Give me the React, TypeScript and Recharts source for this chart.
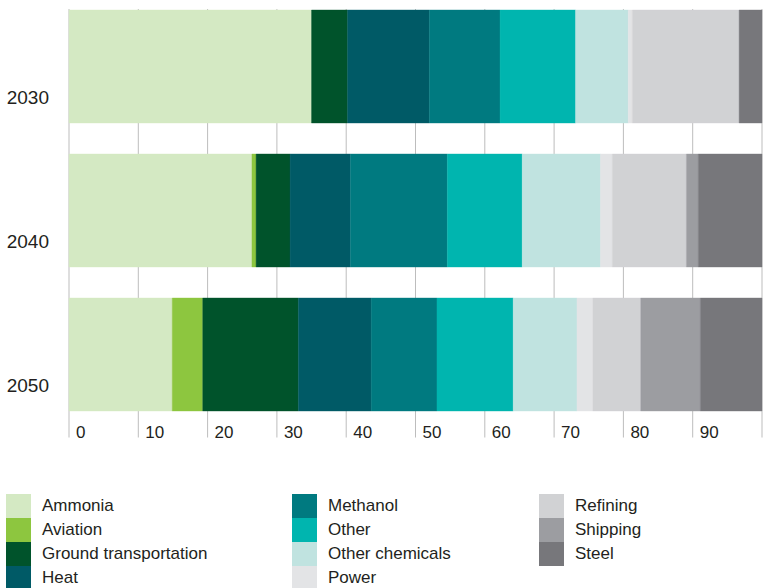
import { Bar, BarChart, CartesianGrid, Legend, XAxis, YAxis } from "recharts";

const years = ["2030", "2040", "2050"];

// share of hydrogen demand by sector, % of each year's total
const ammonia = [35, 26.4, 14.9];
const aviation = [0, 0.6, 4.4];
const groundTransportation = [5.2, 4.9, 13.8];
const heat = [11.8, 8.7, 10.5];
const methanol = [10.2, 14.0, 9.5];
const other = [10.9, 10.8, 11.0];
const otherChemicals = [7.6, 11.3, 9.2];
const power = [0.6, 1.7, 2.3];
const refining = [15.4, 10.7, 6.9];
const shipping = [0, 1.7, 8.6];
const steel = [3.3, 9.2, 8.9];

const xTicks = [0, 10, 20, 30, 40, 50, 60, 70, 80, 90, 100];

const series = [
  { key: "ammonia", name: "Ammonia", values: ammonia, color: "#d4e9c3" },
  { key: "aviation", name: "Aviation", values: aviation, color: "#8dc63f" },
  { key: "ground", name: "Ground transportation", values: groundTransportation, color: "#00532b" },
  { key: "heat", name: "Heat", values: heat, color: "#005a66" },
  { key: "methanol", name: "Methanol", values: methanol, color: "#007a80" },
  { key: "other", name: "Other", values: other, color: "#00b5af" },
  { key: "otherChemicals", name: "Other chemicals", values: otherChemicals, color: "#c0e3e0" },
  { key: "power", name: "Power", values: power, color: "#e3e4e6" },
  { key: "refining", name: "Refining", values: refining, color: "#d1d2d4" },
  { key: "shipping", name: "Shipping", values: shipping, color: "#9c9da1" },
  { key: "steel", name: "Steel", values: steel, color: "#77777b" },
];

const data = years.map((year, i) => {
  const row: Record<string, string | number> = { year };
  series.forEach((s) => (row[s.key] = s.values[i]));
  return row;
});

const FONT = '"Liberation Sans", Arial, Helvetica, sans-serif';
const TEXT = "#231f20";
const GRID = "#bdbdbd";

const legendColumns = [series.slice(0, 4), series.slice(4, 8), series.slice(8)];
const legendColumnLeft = [6, 292, 539];

function YearTick(props: any) {
  const { x, y, payload } = props;
  return (
    <text x={x - 20} y={y + 38} textAnchor="end" fontSize={19} fontFamily={FONT} fill={TEXT}>
      {payload.value}
    </text>
  );
}

function ValueTick(props: any) {
  const { x, y, payload } = props;
  if (payload.value >= 100) return <g />;
  return (
    <text x={x + 7} y={y + 11.5} textAnchor="start" fontSize={17} fontFamily={FONT} fill={TEXT}>
      {payload.value}
    </text>
  );
}

function GridLine(props: any) {
  // lines start at the top of the first bar and run down past the axis
  return (
    <line
      key={props.key}
      x1={props.x1}
      x2={props.x2}
      y1={props.y1 + 15}
      y2={props.y2 + 11.5}
      stroke={GRID}
      strokeWidth={1}
    />
  );
}

function SectorLegend() {
  return (
    <div style={{ position: "relative", width: 765, height: 96, fontFamily: FONT }}>
      {legendColumns.map((col, ci) => (
        <div key={ci} style={{ position: "absolute", left: legendColumnLeft[ci], top: 0 }}>
          {col.map((s) => (
            <div key={s.key} style={{ display: "flex", alignItems: "center", height: 24 }}>
              <div style={{ width: 25, height: 24, background: s.color }} />
              <span style={{ marginLeft: 11, fontSize: 17, color: TEXT, lineHeight: "24px" }}>
                {s.name}
              </span>
            </div>
          ))}
        </div>
      ))}
    </div>
  );
}

export default function App() {
  return (
    <div style={{ position: "absolute", left: 0, top: 0, width: 765, height: 588, background: "#fff" }}>
      <BarChart
        width={765}
        height={588}
        data={data}
        layout="vertical"
        margin={{ top: -6, right: 3, left: 0, bottom: 132 }}
      >
        <CartesianGrid horizontal={false} vertical={GridLine} />
        <XAxis
          type="number"
          domain={[0, 100]}
          ticks={xTicks}
          interval={0}
          axisLine={false}
          tickLine={false}
          tickSize={0}
          tickMargin={0}
          height={30}
          tick={<ValueTick />}
        />
        <YAxis
          type="category"
          dataKey="year"
          width={69}
          axisLine={false}
          tickLine={false}
          tickSize={0}
          tickMargin={0}
          tick={<YearTick />}
        />
        <Legend
          layout="horizontal"
          align="center"
          verticalAlign="middle"
          wrapperStyle={{ position: "absolute", left: 0, top: 494, width: 765 }}
          content={() => <SectorLegend />}
        />
        {series.map((s) => (
          <Bar
            key={s.key}
            dataKey={s.key}
            name={s.name}
            stackId="share"
            fill={s.color}
            stroke={s.color}
            strokeWidth={0.4}
            barSize={113}
            isAnimationActive={false}
          />
        ))}
      </BarChart>
    </div>
  );
}
